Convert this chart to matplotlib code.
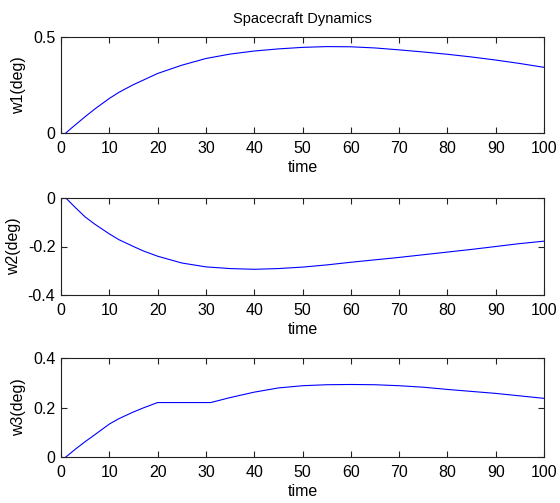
import matplotlib
matplotlib.use("Agg")
import matplotlib.pyplot as plt
from matplotlib import font_manager

names = {f.name for f in font_manager.fontManager.ttflist}
fam = ["Liberation Sans", "DejaVu Sans"]
fam = [f for f in fam if f in names] or ["DejaVu Sans"]
plt.rcParams["font.family"] = fam

t = [1, 2, 3, 5, 7, 10, 12, 15, 17, 20, 25, 30, 35, 40, 45, 50, 55, 60, 65, 70, 75, 80, 85, 90, 95, 100]
w1 = [0.0, 0.022, 0.043, 0.085, 0.125, 0.18, 0.212, 0.252, 0.275, 0.31, 0.353, 0.388, 0.411,
      0.427, 0.438, 0.446, 0.45, 0.449, 0.443, 0.433, 0.422, 0.41, 0.396, 0.38, 0.362, 0.342]
w2 = [0.0, -0.02, -0.04, -0.078, -0.108, -0.148, -0.172, -0.2, -0.218, -0.24, -0.268,
      -0.284, -0.291, -0.294, -0.291, -0.285, -0.276, -0.265, -0.255, -0.245, -0.234, -0.223,
      -0.212, -0.2, -0.188, -0.178]
t3 = [1, 2, 3, 5, 7, 10, 12, 15, 17, 20, 31, 35, 40, 45, 50, 55, 60, 65, 70, 75, 80, 85, 90, 95, 100]
w3 = [0.0, 0.016, 0.032, 0.062, 0.09, 0.133, 0.155, 0.182, 0.198, 0.22, 0.22, 0.24, 0.262,
      0.279, 0.288, 0.292, 0.293, 0.292, 0.288, 0.282, 0.273, 0.265, 0.257, 0.247, 0.237]

xticks = list(range(0, 101, 10))
panels = [
    (t, w1, "w1(deg)", (0, 0.5), [0, 0.5], ["0", "0.5"]),
    (t, w2, "w2(deg)", (-0.4, 0), [-0.4, -0.2, 0], ["-0.4", "-0.2", "0"]),
    (t3, w3, "w3(deg)", (0, 0.4), [0, 0.2, 0.4], ["0", "0.2", "0.4"]),
]

fig = plt.figure(figsize=(5.6, 5.03), dpi=100)
boxes = [(61, 37, 133), (61, 198, 295), (61, 358, 457)]
W, H = 560, 503
for (x, y, lab, ylim, yt, ytl), (l, top, bot) in zip(panels, boxes):
    ax = fig.add_axes([l / W, 1 - bot / H, (544 - l) / W, (bot - top) / H])
    ax.plot(x, y, color="#0000ff", lw=0.8)
    ax.set_xlim(0, 100)
    ax.set_ylim(*ylim)
    ax.set_xticks(xticks)
    ax.set_yticks(yt)
    ax.set_yticklabels(ytl)
    ax.tick_params(direction="in", length=4, width=0.8, top=True, right=True,
                   labelsize=11.5, color="#222222")
    ax.tick_params(axis="x", pad=6)
    ax.tick_params(axis="y", pad=4)
    for s in ax.spines.values():
        s.set_linewidth(0.8)
        s.set_color("#222222")
    ax.set_xlabel("time", fontsize=11.5, labelpad=3)
    ax.set_ylabel(lab, fontsize=11.5, labelpad=5)
    if lab == "w1(deg)":
        ax.set_title("Spacecraft Dynamics", fontsize=10.5, pad=10)

fig.savefig("out.png", dpi=100)
